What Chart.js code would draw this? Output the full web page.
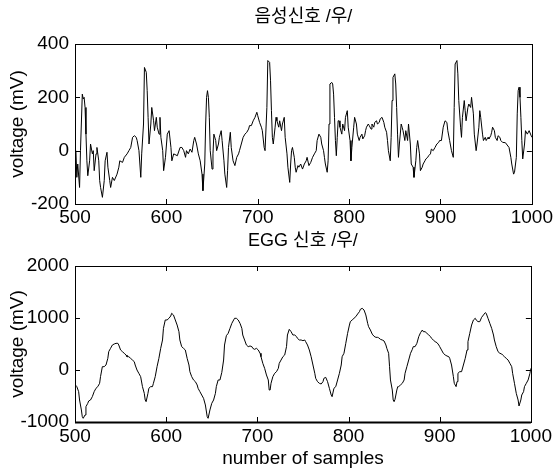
<!DOCTYPE html>
<html>
<head>
<meta charset="utf-8">
<script src="https://cdn.jsdelivr.net/npm/chart.js@4.4.1/dist/chart.umd.min.js"></script>
<style>
  html, body { margin: 0; padding: 0; background: #fff; }
  #wrap { position: relative; width: 555px; height: 472px; }
  canvas { position: absolute; left: 0; }
  #speechChart { top: 0; }
  #eggChart { top: 226px; }
</style>
</head>
<body>
<div id="wrap">
  <canvas id="speechChart" width="555" height="226"></canvas>
  <canvas id="eggChart" width="555" height="246"></canvas>
</div>
<script>
// --- data (sample index / mV) ---
const speechSamples = [501,502,503,505,506,508,509,510,511,512,513,514,516,517,519,520,521,523,524,526,527,528,530,532,533,535,536,538,539,541,543,546,548,549,552,554,557,559,561,563,565,567,568,570,572,573,575,576,578,579,580,581,583,584,586,587,589,590,592,593,594,596,597,599,601,603,605,606,608,612,615,617,619,621,622,624,626,628,630,631,633,635,637,639,640,642,643,644,645,646,647,648,650,651,652,654,655,657,658,660,661,663,664,666,667,668,670,671,673,675,677,679,680,682,684,686,688,690,691,693,695,697,699,700,702,704,705,707,708,710,711,713,714,715,716,717,719,720,721,723,724,726,727,729,730,732,733,735,736,737,738,740,741,742,744,745,747,749,751,753,754,756,758,760,762,764,765,767,769,770,772,773,774,776,777,778,779,781,782,783,784,785,786,787,788,789,790,792,793,795,796,798,799,801,802,803,805,806,808,809,811,812,814,815,817,818,819,821,822,824,825,827,828,830,831,833,834,836,838,839,841,842,843,845,846,847,848,850,851,852,853,854,855,857,858,859,861,862,864,865,867,868,870,871,873,874,875,877,878,880,881,883,884,886,887,889,890,892,894,896,898,899,901,903,905,907,908,910,912,914,915,916,918,919,920,922,923,924,926,927,928,930,931,933,934,936,937,939,940,942,943,944,946,947,949,950,952,953,955,956,957,959,960,962,963,965,966,968,971,975,977,978,980,981,983,984,985,986,987,988,989,990,992,993,995,997,1000];
const speechMv = [0,-100,-50,-138,0,212,194,200,162,62,-38,-94,-38,25,-12,0,-75,-12,12,-38,-112,-138,-175,-112,-38,-6,-62,-112,-138,-100,-112,-88,-62,-38,-44,-25,-12,0,12,50,56,50,38,0,-100,-12,100,312,294,225,125,25,100,162,112,75,125,88,62,125,50,0,-75,-25,62,75,12,-38,-12,-19,12,12,0,-25,0,-12,6,-6,38,50,25,-12,-38,-88,-150,-50,100,200,225,200,125,0,-69,-12,62,38,0,25,50,75,38,-38,-88,-138,-75,12,69,12,-38,-56,-25,-12,0,25,50,62,69,81,94,94,112,125,144,131,106,88,75,12,0,162,338,331,262,150,50,25,88,125,112,88,112,75,100,125,50,-12,-62,-119,-50,0,12,-25,-62,-81,-56,-62,-50,-69,-50,-38,-25,-56,-44,-25,-12,0,38,62,50,25,0,-25,-50,-81,-38,100,250,256,250,212,125,38,-19,50,112,112,88,62,100,75,125,150,88,38,-38,12,88,125,100,62,38,50,62,44,56,75,88,100,94,81,100,88,106,112,100,106,119,125,106,88,69,38,0,-38,50,188,275,288,250,162,62,-25,25,100,88,75,38,75,38,100,25,-50,-62,-100,-38,12,38,-12,-75,-62,-50,-38,-31,-25,-19,-12,6,0,12,25,31,38,38,88,112,106,75,38,0,-25,162,325,338,288,188,88,50,125,188,150,112,162,175,162,200,138,62,0,25,88,150,125,62,38,50,38,50,44,56,69,88,75,50,38,56,50,38,31,30,12,-25,-50,-88,-81,-25,138,225,238,200,125,38,-31,25,75,62,75,50];

const eggSamples = [500,502,504,505,507,508,509,511,512,514,515,517,519,521,523,525,527,528,530,532,534,536,537,539,541,543,545,547,548,550,552,554,556,557,559,561,563,565,566,568,570,572,574,576,577,578,580,581,583,585,586,588,590,592,594,596,597,599,601,603,605,606,608,610,612,614,615,617,619,621,623,625,626,628,630,632,634,635,637,639,641,643,645,646,648,650,652,654,655,657,659,661,663,664,666,668,670,672,674,675,677,679,681,683,684,686,688,690,692,694,695,697,699,701,703,704,706,708,710,712,713,714,715,717,719,721,723,724,726,728,730,732,733,735,737,739,741,743,744,746,748,750,752,753,755,757,759,761,763,764,766,768,770,772,773,775,777,779,781,782,784,786,788,790,792,793,795,797,799,801,802,804,806,808,810,812,813,815,817,819,821,822,824,826,828,830,832,833,835,837,839,841,842,844,845,846,848,849,850,851,853,854,855,857,859,861,862,864,866,868,870,871,873,875,877,879,881,882,884,886,888,890,891,893,895,897,899,900,902,904,906,908,910,911,913,915,916,918,919,920,922,924,926,928,930,931,933,935,937,939,940,942,944,946,948,950,951,953,955,957,959,960,962,964,966,968,969,971,973,975,977,979,980,982,984,986,987,989,990,992,993,995,997,999,1000];
const eggMv = [-280,-320,-417,-577,-769,-897,-929,-865,-705,-641,-596,-577,-513,-417,-352,-320,-256,-128,64,64,96,224,353,417,481,500,513,513,481,385,353,321,289,256,256,224,192,160,96,0,-64,-128,-320,-449,-577,-609,-449,-352,-320,-320,-256,-128,64,224,417,577,801,962,962,994,1038,1090,1058,962,865,737,577,449,417,385,224,96,-32,-128,-192,-224,-288,-352,-417,-481,-545,-673,-897,-929,-769,-641,-577,-449,-320,-192,-192,-48,192,480,660,705,801,897,962,994,994,962,897,801,673,577,481,449,462,449,417,397,417,385,321,256,128,32,-96,-192,-385,-385,-256,-128,-64,-32,32,128,192,256,289,449,673,782,737,673,673,641,609,577,577,564,577,545,481,385,256,96,-64,-160,-224,-256,-269,-224,-160,-141,-224,-352,-481,-513,-352,-320,-192,-64,96,256,321,513,705,865,930,962,994,1026,1077,1122,1167,1186,1154,1058,897,833,769,690,648,628,628,620,590,577,558,481,417,321,64,-192,-385,-577,-609,-564,-385,-320,-320,-288,-256,-192,-64,64,192,321,397,449,449,513,641,718,769,737,737,705,673,641,609,577,545,526,481,449,385,321,289,269,256,224,96,-128,-256,-320,-224,-64,-32,-32,96,224,385,545,705,865,962,994,962,930,930,1013,1058,1103,1090,994,897,801,673,577,449,353,321,308,289,256,224,192,128,64,-64,-256,-449,-577,-692,-577,-481,-417,-320,-256,-192,-64,32];

const sampleTicks = [500, 600, 700, 800, 900, 1000];

const latin = "'Liberation Sans', Arial, sans-serif";
const titleFamily = "'Liberation Sans', 'Noto Sans CJK KR', sans-serif";
const tickFont = { family: latin, size: 19 };
const labelFont = { family: latin, size: 19 };

// frame with inward ticks on all four sides, MATLAB style
const frameTicks = {
    id: 'frameTicks',
    afterDraw(chart, args, opts) {
        const { ctx, chartArea: a, scales: { x, y } } = chart;
        const len = 5;
        ctx.save();
        ctx.strokeStyle = '#000';
        ctx.lineWidth = 1;
        ctx.strokeRect(Math.round(a.left) + 0.5, Math.round(a.top) + 0.5, Math.round(a.width), Math.round(a.height));
        if (opts.thickBottom) {
            ctx.lineWidth = 2;
            ctx.beginPath();
            ctx.moveTo(a.left, Math.round(a.bottom) + 0.5);
            ctx.lineTo(a.right, Math.round(a.bottom) + 0.5);
            ctx.stroke();
            ctx.lineWidth = 1;
        }
        ctx.beginPath();
        x.ticks.forEach(t => {
            const px = Math.round(x.getPixelForValue(t.value)) + 0.5;
            ctx.moveTo(px, a.top); ctx.lineTo(px, a.top + len);
            ctx.moveTo(px, a.bottom); ctx.lineTo(px, a.bottom - len);
        });
        y.ticks.forEach(t => {
            const py = Math.round(y.getPixelForValue(t.value)) + 0.5;
            ctx.moveTo(a.left, py); ctx.lineTo(a.left + len, py);
            ctx.moveTo(a.right, py); ctx.lineTo(a.right - len, py);
        });
        ctx.stroke();
        ctx.restore();
    }
};

// title centred over the plot box, like MATLAB's title()
const boxTitle = {
    id: 'boxTitle',
    afterDraw(chart, args, opts) {
        const { ctx, chartArea: a } = chart;
        ctx.save();
        ctx.fillStyle = '#000';
        ctx.font = `18px ${titleFamily}`;
        ctx.textAlign = 'center';
        ctx.textBaseline = 'middle';
        ctx.fillText(opts.text, (a.left + a.right) / 2, a.top - opts.gap);
        ctx.restore();
    }
};

function makeChart(canvasId, cfg) {
    const points = cfg.xs.map((s, i) => ({ x: s, y: cfg.ys[i] }));
    return new Chart(document.getElementById(canvasId), {
        type: 'line',
        data: {
            datasets: [{
                data: points,
                borderColor: '#000',
                borderWidth: 1,
                pointRadius: 0,
                tension: 0,
                fill: false
            }]
        },
        options: {
            responsive: false,
            animation: false,
            layout: { padding: { left: 0, right: 22, top: cfg.top, bottom: 0 } },
            plugins: {
                legend: { display: false },
                tooltip: { enabled: false },
                title: { display: false },
                frameTicks: { thickBottom: cfg.thickBottom },
                boxTitle: { text: cfg.title, gap: cfg.titleGap }
            },
            scales: {
                x: {
                    type: 'linear',
                    min: 500,
                    max: 1000,
                    afterBuildTicks: s => { s.ticks = sampleTicks.map(v => ({ value: v })); },
                    ticks: { color: '#000', font: tickFont, padding: cfg.xPad, maxRotation: 0, autoSkip: false,
                             callback: v => String(v) },
                    grid: { display: false, drawTicks: false },
                    border: { display: false },
                    title: cfg.xTitle ? {
                        display: true, text: cfg.xTitle, color: '#000', font: labelFont,
                        padding: { top: 0, bottom: 2 }
                    } : { display: false },
                    afterFit: s => { s.height = cfg.xHeight; }
                },
                y: {
                    min: cfg.yMin,
                    max: cfg.yMax,
                    ticks: { stepSize: cfg.yStep, color: '#000', font: tickFont, padding: 6,
                             callback: v => String(v) },
                    grid: { display: false, drawTicks: false },
                    border: { display: false },
                    title: {
                        display: true, text: 'voltage (mV)', color: '#000', font: labelFont,
                        padding: { top: 6, bottom: 0 }
                    },
                    afterFit: s => { s.width = 75; }
                }
            }
        },
        plugins: [frameTicks, boxTitle]
    });
}

makeChart('speechChart', {
    xs: speechSamples, ys: speechMv,
    title: '음성신호 /우/', top: 44, titleGap: 27,
    yMin: -200, yMax: 400, yStep: 200,
    xHeight: 22, xPad: 2
});

makeChart('eggChart', {
    xs: eggSamples, ys: eggMv,
    title: 'EGG 신호 /우/', top: 40, titleGap: 25,
    yMin: -1000, yMax: 2000, yStep: 1000,
    xHeight: 50, xPad: 3, xTitle: 'number of samples',
    thickBottom: true
});
</script>
</body>
</html>
